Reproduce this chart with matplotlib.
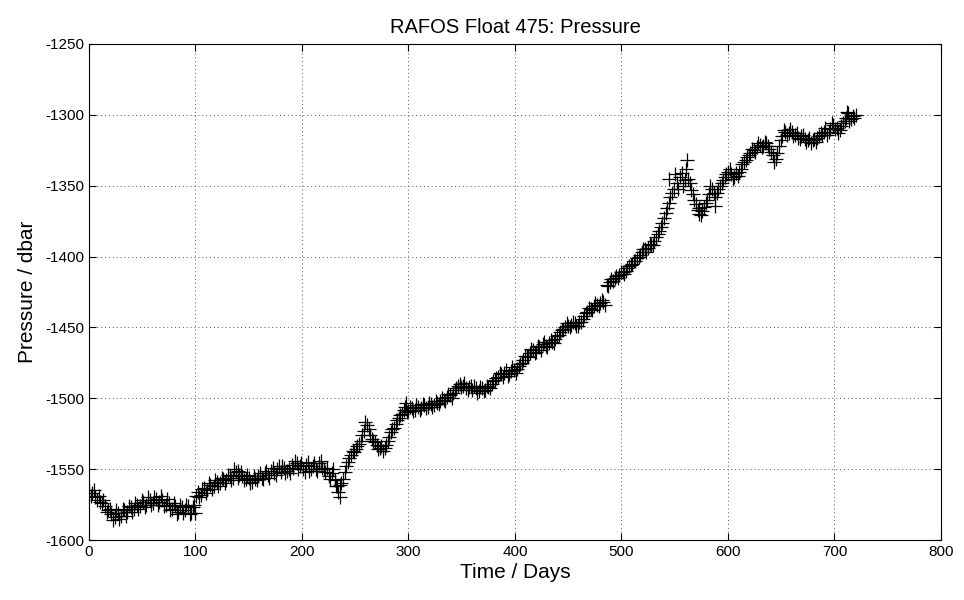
import numpy as np
import matplotlib
matplotlib.use("Agg")
import matplotlib.pyplot as plt

plt.rcParams['font.family'] = ['Liberation Sans', 'DejaVu Sans']
plt.rcParams['axes.unicode_minus'] = False

title = "RAFOS Float 475: Pressure"
xlabel = "Time / Days"
ylabel = "Pressure / dbar"
xticks = [0, 100, 200, 300, 400, 500, 600, 700, 800]
yticks = [-1600, -1550, -1500, -1450, -1400, -1350, -1300, -1250]

days = np.arange(0, 721, 3)
pressure = [
    -1565, -1567, -1570, -1569, -1574, -1576, -1579, -1582, -1584, -1581,
    -1583, -1579, -1580, -1577, -1578, -1575, -1576, -1573, -1575, -1572,
    -1574, -1571, -1573, -1572, -1575, -1574, -1578, -1576, -1580, -1577,
    -1579, -1576, -1581, -1575, -1566, -1568, -1563, -1565, -1561, -1562,
    -1559, -1560, -1557, -1558, -1555, -1556, -1552, -1554, -1555, -1557,
    -1556, -1559, -1557, -1555, -1556, -1553, -1554, -1551, -1553, -1550,
    -1552, -1549, -1551, -1553, -1549, -1546, -1548, -1550, -1547, -1551,
    -1548, -1550, -1546, -1549, -1552, -1555, -1553, -1558, -1566, -1560,
    -1552, -1545, -1540, -1538, -1534, -1530, -1523, -1519, -1526, -1530,
    -1533, -1535, -1537, -1533, -1527, -1522, -1518, -1514, -1511, -1506,
    -1509, -1507, -1508, -1506, -1507, -1505, -1506, -1504, -1505, -1503,
    -1502, -1501, -1499, -1498, -1496, -1493, -1490, -1491, -1493, -1492,
    -1494, -1493, -1495, -1493, -1494, -1492, -1490, -1487, -1485, -1483,
    -1482, -1484, -1481, -1480, -1479, -1476, -1473, -1470, -1468, -1466,
    -1467, -1464, -1462, -1463, -1461, -1460, -1458, -1455, -1452, -1450,
    -1449, -1448, -1447, -1449, -1446, -1442, -1439, -1437, -1435, -1434,
    -1433, -1432, -1420, -1418, -1417, -1414, -1413, -1411, -1410, -1407,
    -1405, -1403, -1400, -1397, -1395, -1394, -1392, -1389, -1384, -1379,
    -1373, -1366, -1358, -1352, -1348, -1344, -1350, -1338, -1348, -1356,
    -1363, -1366, -1368, -1362, -1356, -1352, -1358, -1352, -1348, -1344,
    -1340, -1342, -1344, -1343, -1338, -1333, -1330, -1327, -1325, -1323,
    -1321, -1322, -1320, -1324, -1328, -1331, -1322, -1315, -1312, -1313,
    -1312, -1314, -1316, -1315, -1317, -1318, -1320, -1317, -1316, -1313,
    -1312, -1314, -1310, -1307, -1309, -1311, -1306, -1302, -1304, -1301,
    -1300,
]

# intermediate fixes (half-way between the samples above)
days_mid = np.arange(1.5, 720, 3)
pressure_mid = [
    -1569, -1565, -1572, -1573, -1572, -1580, -1578, -1586, -1579, -1585,
    -1578, -1583, -1576, -1580, -1574, -1578, -1572, -1577, -1570, -1575,
    -1570, -1575, -1569, -1576, -1571, -1579, -1574, -1582, -1575, -1581,
    -1575, -1582, -1577, -1569, -1570, -1564, -1567, -1560, -1564, -1558,
    -1562, -1556, -1560, -1554, -1558, -1550, -1556, -1552, -1558, -1554,
    -1560, -1555, -1558, -1553, -1557, -1551, -1556, -1549, -1554, -1548,
    -1548, -1553, -1550, -1547, -1544, -1550, -1546, -1552, -1545, -1550,
    -1546, -1551, -1544, -1550, -1549, -1557, -1550, -1562, -1561, -1557,
    -1548, -1542, -1537, -1536, -1532, -1526, -1517, -1522, -1529, -1531,
    -1536, -1534, -1535, -1530, -1524, -1521, -1515, -1512, -1508, -1510,
    -1506, -1509, -1505, -1508, -1504, -1507, -1503, -1506, -1502, -1504,
    -1500, -1502, -1497, -1500, -1494, -1491, -1492, -1489, -1494, -1491,
    -1491, -1496, -1492, -1495, -1491, -1493, -1488, -1486, -1482, -1485,
    -1480, -1483, -1478, -1482, -1477, -1475, -1470, -1471, -1465, -1468,
    -1463, -1466, -1460, -1464, -1459, -1461, -1456, -1453, -1451, -1447,
    -1450, -1446, -1449, -1446, -1444, -1440, -1436, -1438, -1433, -1435,
    -1431, -1434, -1421, -1416, -1415, -1415, -1411, -1412, -1408, -1406,
    -1403, -1401, -1399, -1395, -1397, -1391, -1392, -1386, -1382, -1376,
    -1369, -1362, -1355, -1342, -1352, -1341, -1346, -1345, -1353, -1360,
    -1367, -1371, -1365, -1360, -1350, -1355, -1355, -1350, -1346, -1342,
    -1338, -1345, -1341, -1340, -1335, -1332, -1328, -1324, -1326, -1320,
    -1323, -1319, -1322, -1326, -1333, -1327, -1318, -1311, -1314, -1310,
    -1315, -1313, -1317, -1314, -1319, -1316, -1318, -1319, -1315, -1314,
    -1309, -1312, -1306, -1310, -1313, -1308, -1304, -1299, -1303, -1302,
]

# additional scattered fixes (outliers)
extra_days = [236, 298, 562, 545, 573, 588, 712, 140, 232, 100]
extra_pressure = [-1570, -1503, -1332, -1345, -1370, -1364, -1298, -1551, -1562, -1581]

fig = plt.figure(figsize=(9.64, 6.0), dpi=100)
ax = fig.add_axes([0.0923, 0.1, 0.8838, 0.8267])

style = dict(linestyle='none', marker='+', color='black',
             markersize=10, markeredgewidth=0.9)
ax.plot(days, pressure, **style)
ax.plot(days_mid, pressure_mid, **style)
ax.plot(extra_days, extra_pressure, **style)

ax.set_xlim(0, 800)
ax.set_ylim(-1600, -1250)
ax.set_xticks(xticks)
ax.set_yticks(yticks)
ax.tick_params(direction='in', top=True, right=True, labelsize=11, length=5)
ax.grid(True, linestyle=(0, (1, 3)), color='#555555', linewidth=0.7)
for s in ax.spines.values():
    s.set_linewidth(0.8)

ax.set_title(title, fontsize=14.5, pad=8)
ax.set_xlabel(xlabel, fontsize=15, labelpad=3)
ax.set_ylabel(ylabel, fontsize=15, labelpad=6)

fig.savefig("out.png", dpi=100)
